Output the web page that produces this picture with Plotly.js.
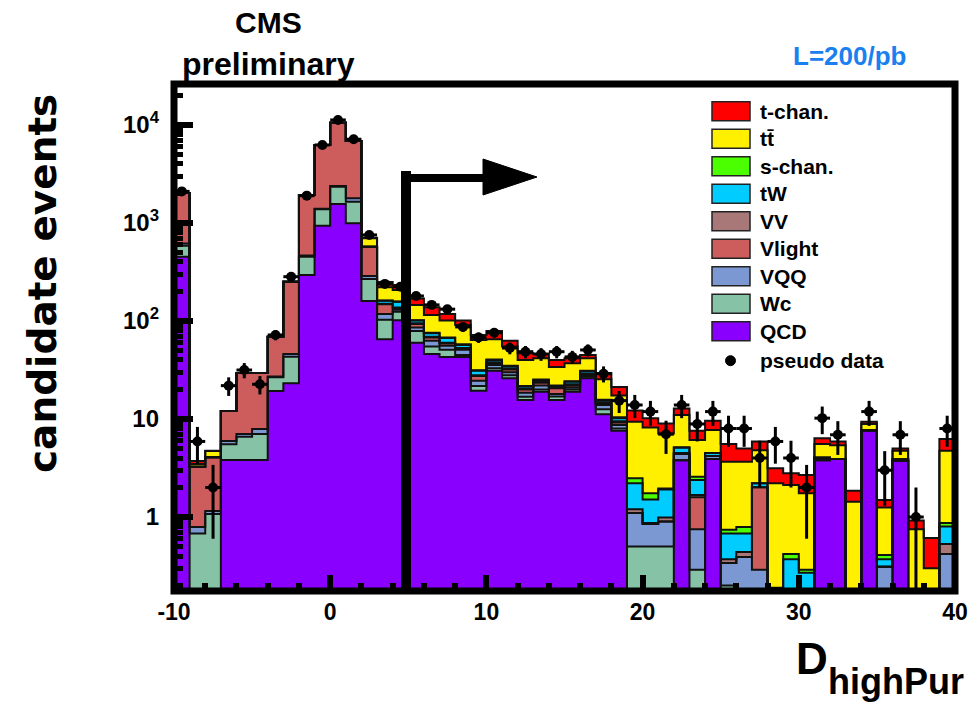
<!DOCTYPE html>
<html><head><meta charset="utf-8">
<script src="https://cdn.plot.ly/plotly-3.0.1.min.js"></script>
<style>html,body{margin:0;padding:0;background:#fff;}#chart{width:970px;height:704px;}</style>
</head><body><div id="chart"></div>
<script>
// bins of width 1, lower edges -10 .. 39
const binLowEdges = [-10,-9,-8,-7,-6,-5,-4,-3,-2,-1,0,1,2,3,4,5,6,7,8,9,10,11,12,13,14,15,16,17,18,19,20,21,22,23,24,25,26,27,28,29,30,31,32,33,34,35,36,37,38,39];
const binWidth = 1;

// components, bottom of the stack first
const qcd    = [453,0,0,3.82,3.82,3.82,19.3,23.1,295,939,1563,993,160,65,102,60,46,43,43,19.4,31,26,15.6,19,15.6,19,26,11.2,7.6,0,0,0,3.8,0,3.9,0,0,0,0,0,0,3.8,3.9,0,7.6,0,3.75,0,0,0];
const wc     = [134,0.68,1.07,1.70,2.78,3.21,7.3,20.1,158,441,782,656,108,38,22,19,9,8,2,2.3,2,2,1.3,1,1.4,1,1,1.4,0.4,0.5,0.5,0.5,0,0.29,0,0.2,0,0,0,0,0,0,0,0,0,0,0,0,0,0];
const vqq    = [32,0.11,0.08,0.45,0.43,0.87,0.6,2.8,12,20,35,137,20,15,6,7,8,5,6,2.9,2.6,2,1.6,2,1,1,1,1.3,0.7,0.6,0.35,0.4,0.6,0.46,0.3,0.14,0.39,0.29,0,0,0,0.15,0,0,0.1,0.31,0.1,0,0,0.42];
const vlight = [1400,2.47,2.92,6.13,22.5,21.6,41.8,206,1467,4850,8170,5084,285,30,5,7,5,3,1,2.9,1.4,2,1.5,1.5,2.6,1,0.6,0.6,0.5,0,0,0,0,0.84,0,0,0,1.72,0,0,0,0,0,0,0,0,0,0,0,0];
const vv     = [0,0,0,0,0,0,0,0,0,0,0,0,0,2,2,2,1,1,1,0.5,1,1,0.5,0.5,0.4,0.6,0.4,0.3,0.3,0.1,0.02,0.09,0.1,0.09,0,0.03,0.05,0,0,0,0,0,0,0,0,0,0,0,0,0.11];
const tw     = [0,0,0,0,0,0,0,0,0,0,0,0,0,11,20,6,6,7,4,3,2,1.7,0.9,1,0.7,1.4,1.5,0.6,0.7,1.01,0.64,0.92,0.6,0.71,0.3,0.31,0.24,0.2,0,0.37,0.27,0.1,0,0,0,0.06,0,0,0,0.27];
const schan  = [0,0,0,0,0,0,0,0,0,0,0,0,0,1,1,1,1,1,1,0.5,0.5,0.3,0.3,0.3,0.3,0.3,0.5,0.3,0.2,0.27,0.24,0.04,0.05,0.19,0,0.06,0.11,0,0.19,0.05,0.02,0,0,0,0,0.04,0,0,0,0.07];
const ttbar  = [0,0.21,0.64,0,0,0,0,0,0,0,0,0,125,59,49,44,39,33,33,32.5,24.5,20,18.3,16.3,12,12.7,10.6,9.7,7,6.92,6.45,5.15,5.85,3.52,3.2,2.93,2.88,2.59,2.02,1.7,1.46,1.51,1.5,1.43,1.2,0.84,0.9,0.75,0.30,3.88];
const tchan  = [0,0.26,0.04,0,0,0,0,0,0,0,0,0,7,29,26,24,23,17,10,8,14,8,6.8,4.4,6,4.6,3.4,4.1,3.8,2.8,2.0,1.9,1.8,1.5,1.9,1.89,1.33,1.1,0.93,0.67,0.94,0.79,0.5,0.42,0.5,0.24,0.25,0.17,0.31,1.5];

const pseudoData = [2100,5.9,2.0,21.9,31.6,22.6,72,283,1900,6250,11250,7150,755,239,224,180,146,132,87,68,76,53,48.6,46,48.6,43,50.6,29,15.4,13.9,11.9,7.0,13.9,8.9,11.9,8.0,8.0,4.0,5.9,4.0,2.0,10.2,6.9,0,11.9,3.0,6.9,1.0,0,8.0];
const pseudoErr  = [46,2.4,1.4,4.7,5.6,4.8,8.5,17,44,79,106,85,27,15,15,13,12,11.5,9.3,8.2,8.7,7.3,7,6.8,7,6.6,7.1,5.4,3.9,3.7,3.4,2.6,3.7,3.0,3.4,2.8,2.8,2.0,2.4,2.0,1.4,3.2,2.6,0,3.4,1.7,2.6,1.0,0,2.8];

const compNames  = ['QCD','Wc','VQQ','Vlight','VV','tW','s-chan.','t\u0074\u0304','t-chan.'];
const compValues = [qcd, wc, vqq, vlight, vv, tw, schan, ttbar, tchan];
const compColors = ['#8a00ff','#86c2a5','#7b98d3','#cd5c5c','#a87878','#00ccff','#4cff00','#fff000','#ff0000'];
const legendNames = ['t-chan.','t\u0074\u0304','s-chan.','tW','VV','Vlight','VQQ','Wc','QCD'];
const legendColors = ['#ff0000','#fff000','#4cff00','#00ccff','#a87878','#cd5c5c','#7b98d3','#86c2a5','#8a00ff'];

const xTickVals = [-10,0,10,20,30,40];
const xTickText = ['-10','0','10','20','30','40'];
const yTickVals = [1,10,100,1000,10000];
const yTickText = ['1','10','10<sup>2</sup>','10<sup>3</sup>','10<sup>4</sup>'];

// ---------- drawing ----------
const FONT = 'Liberation Sans, Arial, Helvetica, sans-serif';
const PL = 174, PR = 955, PT = 84, PB = 591;
const PW = PR - PL, PH = PB - PT;
const px = x => (x - PL) / PW;
const py = y => (PB - y) / PH;

const centers = binLowEdges.map(e => e + binWidth / 2);
const edgesX = binLowEdges.concat([binLowEdges[binLowEdges.length - 1] + binWidth]);

const traces = [];
compValues.forEach((vals, k) => {
  traces.push({type:'bar', x:centers, y:vals, width:binWidth, name:compNames[k],
    marker:{color:compColors[k], line:{width:0}}, hoverinfo:'skip'});
});
// outlines of each cumulative level (step lines)
const cum = binLowEdges.map(() => 0);
compValues.forEach((vals, k) => {
  for (let i = 0; i < cum.length; i++) cum[i] += vals[i];
  const ys = cum.map(v => v > 0 ? v : 1e-3);
  ys.push(ys[ys.length - 1]);
  traces.push({type:'scatter', mode:'lines', x:edgesX, y:ys,
    line:{shape:'hv', color:'#111', width:2}, hoverinfo:'skip'});
});
traces.push({type:'scatter', mode:'markers', x:centers,
  y:pseudoData.map(v => v > 0 ? v : null),
  marker:{color:'black', size:10},
  error_y:{type:'data', array:pseudoErr, color:'black', thickness:3, width:0},
  error_x:{type:'constant', value:binWidth/2, color:'black', thickness:3, width:0},
  hoverinfo:'skip'});

const xMinor = [], yMinor = [];
for (let v = -10; v <= 40; v += 2) if (v % 10 !== 0) xMinor.push(v);
for (let d = -1; d <= 4; d++) for (let m = 2; m <= 9; m++) { const v = m * Math.pow(10, d); if (v > 0.17 && v < 26000) yMinor.push(+v.toPrecision(3)); }

const shapes = [];
const annotations = [];
// frame
shapes.push({type:'rect', xref:'paper', yref:'paper', x0:0, x1:1, y0:0, y1:1, line:{color:'black', width:7}, fillcolor:'rgba(0,0,0,0)', layer:'above'});
// arrow
shapes.push({type:'line', xref:'paper', yref:'paper', x0:px(406), x1:px(406), y0:py(PB), y1:py(171), line:{color:'black', width:10}, layer:'above'});
shapes.push({type:'line', xref:'paper', yref:'paper', x0:px(401), x1:px(490), y0:py(178), y1:py(178), line:{color:'black', width:8}, layer:'above'});
shapes.push({type:'path', xref:'paper', yref:'paper', path:`M ${px(483)},${py(159)} L ${px(537)},${py(177)} L ${px(483)},${py(195)} Z`, fillcolor:'black', line:{color:'black', width:1}, layer:'above'});
// legend
const legTop = 101.7, legStep = 27.5;
legendNames.forEach((nm, i) => {
  const y0 = legTop + i * legStep;
  shapes.push({type:'rect', xref:'paper', yref:'paper', x0:px(712), x1:px(750), y0:py(y0 + 19), y1:py(y0), fillcolor:legendColors[i], line:{color:'#222', width:1.5}, layer:'above'});
  annotations.push({xref:'paper', yref:'paper', x:px(758), y:py(y0 + 9.5), xanchor:'left', yanchor:'middle', showarrow:false, text:nm, font:{family:FONT, size:21, color:'black', weight:'bold'}});
});
const dy = legTop + 9 * legStep + 9.5 + 2;
shapes.push({type:'circle', xref:'paper', yref:'paper', x0:px(725.5), x1:px(735.5), y0:py(dy + 5), y1:py(dy - 5), fillcolor:'black', line:{color:'black', width:1}, layer:'above'});
annotations.push({xref:'paper', yref:'paper', x:px(758), y:py(dy), xanchor:'left', yanchor:'middle', showarrow:false, text:'pseudo data', font:{family:FONT, size:21, color:'black', weight:'bold'}});
// texts
annotations.push({xref:'paper', yref:'paper', x:px(268), y:py(22), xanchor:'center', yanchor:'middle', showarrow:false, text:'CMS', font:{family:FONT, size:30, color:'black', weight:'bold'}});
annotations.push({xref:'paper', yref:'paper', x:px(268), y:py(64), xanchor:'center', yanchor:'middle', showarrow:false, text:'preliminary', font:{family:FONT, size:32, color:'black', weight:'bold'}});
annotations.push({xref:'paper', yref:'paper', x:px(849), y:py(56), xanchor:'center', yanchor:'middle', showarrow:false, text:'L=200/pb', font:{family:FONT, size:26, color:'#1a80f0', weight:'bold'}});
annotations.push({xref:'paper', yref:'paper', x:px(42), y:py(284), xanchor:'center', yanchor:'middle', textangle:-90, showarrow:false, text:'candidate events', font:{family:'DejaVu Sans, sans-serif', size:39, color:'black', weight:'bold'}});
annotations.push({xref:'paper', yref:'paper', x:px(794), y:py(658), xanchor:'left', yanchor:'middle', showarrow:false, text:'D', font:{family:FONT, size:44, color:'black', weight:'bold'}});
annotations.push({xref:'paper', yref:'paper', x:px(826), y:py(681), xanchor:'left', yanchor:'middle', showarrow:false, text:'highPur', font:{family:FONT, size:36, color:'black', weight:'bold'}});

const layout = {
  width:970, height:704,
  margin:{l:PL, r:970-PR, t:PT, b:704-PB, pad:0},
  paper_bgcolor:'white', plot_bgcolor:'white',
  showlegend:false, barmode:'stack', bargap:0, hovermode:false,
  xaxis:{range:[-10,40], showgrid:false, zeroline:false, showline:false,
    ticks:'inside', ticklen:16, tickwidth:6, tickcolor:'black',
    tickmode:'array', tickvals:xTickVals, ticktext:xTickText,
    tickfont:{family:FONT, size:23, color:'black', weight:'bold'}, ticklabelstandoff:5,
    minor:{tickmode:'array', tickvals:xMinor, ticks:'inside', ticklen:8, tickwidth:6, tickcolor:'black', showgrid:false}},
  yaxis:{type:'log', range:[-0.755, 4.418], showgrid:false, zeroline:false, showline:false,
    ticks:'inside', ticklen:19, tickwidth:6, tickcolor:'black',
    tickmode:'array', tickvals:yTickVals, ticktext:yTickText,
    tickfont:{family:FONT, size:24, color:'black', weight:'bold'}, ticklabelstandoff:14,
    minor:{tickmode:'array', tickvals:yMinor, ticks:'inside', ticklen:9, tickwidth:5, tickcolor:'black', showgrid:false}},
  shapes:shapes, annotations:annotations
};
Plotly.newPlot('chart', traces, layout, {staticPlot:true, displayModeBar:false});
</script></body></html>
